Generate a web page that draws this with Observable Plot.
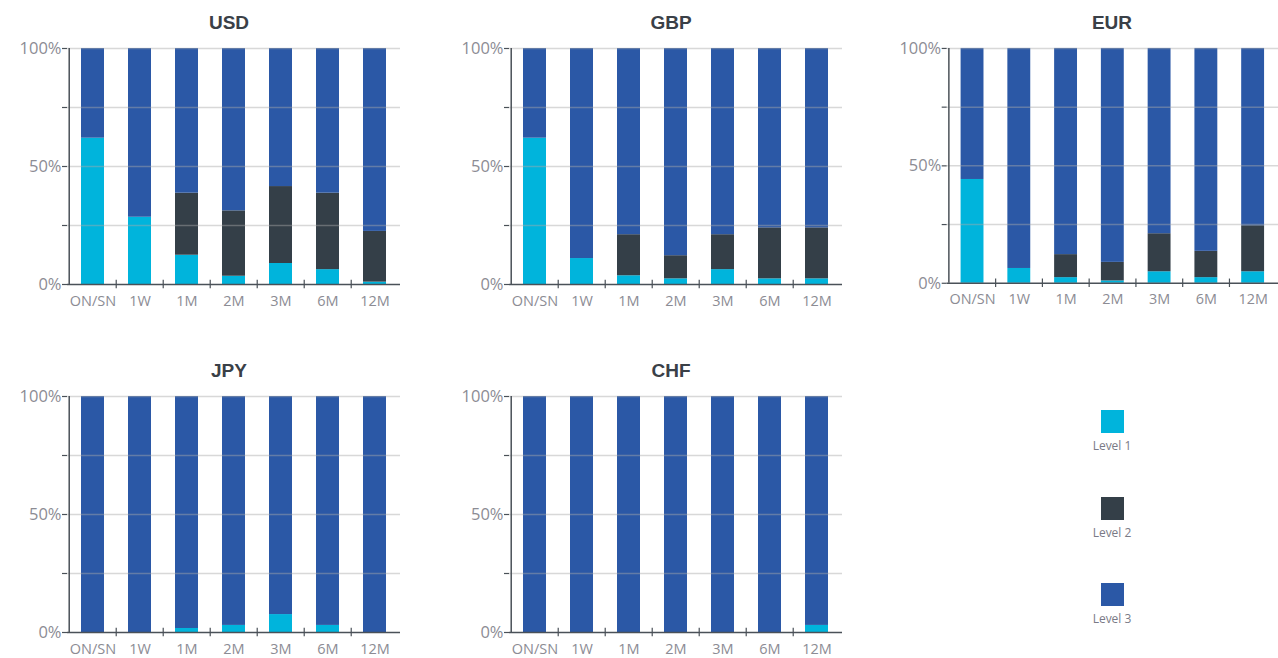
<!DOCTYPE html>
<html>
<head>
<meta charset="utf-8">
<script src="https://cdn.jsdelivr.net/npm/d3@7"></script>
<script src="https://cdn.jsdelivr.net/npm/@observablehq/plot@0.6"></script>
<style>
  html, body { margin: 0; padding: 0; background: #fff; overflow: hidden; }
  #root { position: relative; width: 1278px; height: 658px; font-family: "Open Sans", "Noto Sans", sans-serif; }
  .panel { position: absolute; }
  .title { position: absolute; width: 200px; margin-left: -100px; text-align: center; font-weight: 700; font-size: 19px; color: #3a4047; font-family: "Liberation Sans", "Open Sans", sans-serif; line-height: 1; }
  .swatch { position: absolute; width: 23px; height: 23px; margin-left: -11.5px; }
  .leglabel { position: absolute; width: 100px; margin-left: -50px; text-align: center; font-size: 12px; color: #7a7a86; line-height: 1; }
</style>
</head>
<body>
<div id="root"></div>
<script>
// ---- data ----
const tenors = ["ON/SN", "1W", "1M", "2M", "3M", "6M", "12M"];
const levels = ["Level 1", "Level 2", "Level 3"];
const levelColors = ["#00b4dc", "#343f48", "#2b58a6"];
const yTicks = [0, 25, 50, 75, 100];
const yLabels = {0: "0%", 50: "50%", 100: "100%"};

const usdL1 = [62, 28.5, 12.4, 3.5, 8.9, 6.3, 1.0];
const usdL2 = [0, 0, 26.3, 27.7, 32.6, 32.4, 21.5];
const usdL3 = [38, 71.5, 61.3, 68.8, 58.5, 61.3, 77.5];

const gbpL1 = [62, 11, 3.7, 2.4, 6.3, 2.4, 2.4];
const gbpL2 = [0, 0, 17.4, 9.8, 14.8, 21.6, 21.6];
const gbpL3 = [38, 89, 78.9, 87.8, 78.9, 76, 76];

const eurL1 = [44.2, 6.3, 2.4, 1.0, 4.9, 2.4, 4.9];
const eurL2 = [0, 0, 9.8, 7.9, 16.2, 11.2, 19.6];
const eurL3 = [55.8, 93.7, 87.8, 91.1, 78.9, 86.4, 75.5];

const jpyL1 = [0, 0, 1.7, 3.0, 7.6, 3.0, 0];
const jpyL2 = [0, 0, 0, 0, 0, 0, 0];
const jpyL3 = [100, 100, 98.3, 97, 92.4, 97, 100];

const chfL1 = [0, 0, 0, 0, 0, 0, 3.0];
const chfL2 = [0, 0, 0, 0, 0, 0, 0];
const chfL3 = [100, 100, 100, 100, 100, 100, 97];

const panels = [
  {name: "USD", series: [usdL1, usdL2, usdL3], left: 0, top: 38, titleX: 229, titleY: 13},
  {name: "GBP", series: [gbpL1, gbpL2, gbpL3], left: 442, top: 38, titleX: 671, titleY: 13},
  {name: "EUR", series: [eurL1, eurL2, eurL3], left: 880, top: 38, titleX: 1112, titleY: 13},
  {name: "JPY", series: [jpyL1, jpyL2, jpyL3], left: 0, top: 386, titleX: 229, titleY: 361},
  {name: "CHF", series: [chfL1, chfL2, chfL3], left: 442, top: 386, titleX: 671, titleY: 361}
];

// ---- layout ----
const mLeft = 67, plotW = 333, plotH = 236, mTop = 10, mBottom = 32;
const step = plotW / tenors.length;
const axisColor = "#4a5158";
const labelColor = "#8c8c94";
const root = document.getElementById("root");

function makePanel(series) {
  const rows = [];
  tenors.forEach((t, i) => {
    levels.forEach((lv, j) => rows.push({tenor: t, level: lv, value: series[j][i]}));
  });
  return Plot.plot({
    width: mLeft + plotW,
    height: mTop + plotH + mBottom,
    marginLeft: mLeft, marginRight: 0, marginTop: mTop, marginBottom: mBottom,
    style: {background: "transparent", overflow: "visible", fontFamily: "'Open Sans', 'Noto Sans', sans-serif"},
    x: {domain: tenors, paddingInner: 0.52, paddingOuter: 0.26, axis: null, label: null},
    y: {domain: [0, 100], axis: null, label: null},
    color: {domain: levels, range: levelColors},
    marks: [
      Plot.barY(rows, {x: "tenor", y: "value", fill: "level", order: levels}),
      Plot.gridY(yTicks.filter(d => d > 0), {stroke: "#a8a8a8", strokeOpacity: 0.45, strokeWidth: 1.5}),
      Plot.ruleY([0], {stroke: axisColor, strokeWidth: 1.5}),
      Plot.ruleX([tenors[0]], {dx: -step / 2, y1: 0, y2: 100, stroke: axisColor, strokeWidth: 1.5}),
      Plot.ruleX(tenors.slice(1), {x: d => d, dx: -step / 2, y1: -1.8, y2: 1.8, stroke: axisColor, strokeWidth: 1.2}),
      Plot.axisY(yTicks, {label: null, tickSize: 5, tickPadding: 1, stroke: axisColor, strokeWidth: 1.2, fill: labelColor, fontSize: 16.5, tickFormat: d => yLabels[d] ?? ""}),
      Plot.axisX({label: null, tickSize: 0, tickPadding: 11, fill: labelColor, fontSize: 14.5})
    ]
  });
}

panels.forEach(p => {
  const wrap = document.createElement("div");
  wrap.className = "panel";
  wrap.style.left = p.left + "px";
  wrap.style.top = p.top + "px";
  wrap.appendChild(makePanel(p.series));
  root.appendChild(wrap);
  const t = document.createElement("div");
  t.className = "title";
  t.textContent = p.name;
  t.style.left = p.titleX + "px";
  t.style.top = p.titleY + "px";
  root.appendChild(t);
});

// ---- legend ----
levels.forEach((lv, j) => {
  const top = 410 + j * 86.5;
  const sw = document.createElement("div");
  sw.className = "swatch";
  sw.style.left = "1112px";
  sw.style.top = top + "px";
  sw.style.background = levelColors[j];
  root.appendChild(sw);
  const lb = document.createElement("div");
  lb.className = "leglabel";
  lb.style.left = "1112px";
  lb.style.top = (top + 30) + "px";
  lb.textContent = lv;
  root.appendChild(lb);
});
</script>
</body>
</html>
